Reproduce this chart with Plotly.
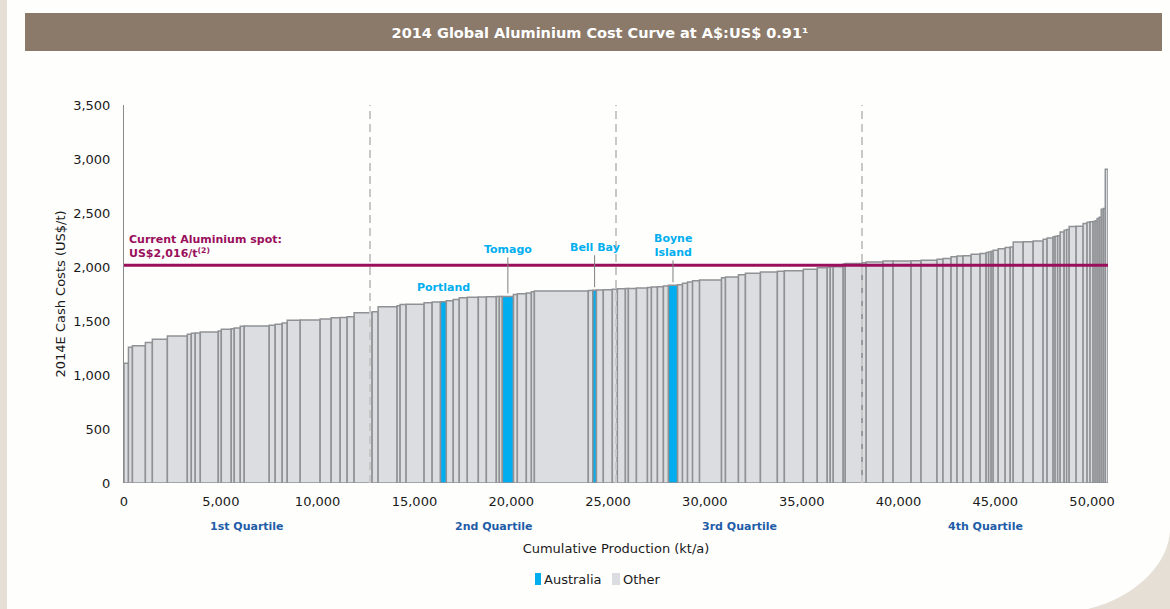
import numpy as np
import plotly.graph_objects as go

W, H = 1170, 609
ML, MR, MT, MB = 124, 62, 105, 126
PW, PH = W - ML - MR, H - MT - MB

# ---------------- data ----------------
capacity_kt = [230, 205, 670, 360, 775, 1030, 205, 205, 260, 930,
               155, 515, 155, 310, 205, 1290, 310, 360, 260, 670,
               1030, 570, 465, 360, 360, 930, 310, 980, 155, 310,
               930, 415, 430, 300, 360, 310, 415, 570, 415, 515,
               155, 155, 570, 205, 465, 260, 155, 2785, 235, 180,
               360, 465, 260, 415, 155, 415, 570, 205, 310, 310,
               260, 465, 260, 260, 260, 360, 1135, 205, 670, 360,
               775, 875, 360, 980, 720, 515, 155, 155, 515, 105,
               875, 205, 875, 515, 930, 515, 825, 310, 415, 310,
               310, 415, 465, 310, 130, 130, 105, 260, 360, 260,
               155, 515, 515, 515, 205, 310, 105, 130, 130, 205,
               130, 130, 360, 360, 205, 155, 155, 105, 105, 105,
               105, 105, 105, 140]
cash_cost = [1108, 1257, 1270, 1300, 1330, 1362, 1378, 1386, 1390, 1397,
             1408, 1424, 1428, 1436, 1452, 1454, 1460, 1471, 1482, 1508,
             1510, 1518, 1530, 1532, 1540, 1576, 1586, 1632, 1642, 1652,
             1654, 1670, 1676, 1678, 1688, 1698, 1715, 1721, 1722, 1724,
             1726, 1728, 1728, 1746, 1752, 1759, 1770, 1778, 1783, 1785,
             1787, 1790, 1795, 1798, 1800, 1802, 1806, 1811, 1814, 1818,
             1824, 1830, 1836, 1849, 1861, 1872, 1880, 1900, 1907, 1928,
             1941, 1954, 1960, 1966, 1979, 1993, 1998, 2000, 2003, 2028,
             2032, 2040, 2047, 2055, 2056, 2058, 2062, 2072, 2078, 2094,
             2102, 2105, 2118, 2124, 2134, 2140, 2146, 2155, 2170, 2180,
             2186, 2232, 2233, 2241, 2257, 2269, 2280, 2285, 2290, 2325,
             2340, 2348, 2375, 2378, 2402, 2414, 2418, 2422, 2428, 2450,
             2460, 2535, 2541, 2905]
australian_idx = [33, 42, 49, 61]
australian_names = ["Portland", "Tomago", "Bell Bay", "Boyne<br>Island"]
label_offset_px = [None, -47, -43, -40]   # leader-line length (None = no line)
spot_price = 2016
x_ticks = list(range(0, 50001, 5000))
y_ticks = list(range(0, 3501, 500))
quartile_labels = ["1st Quartile", "2nd Quartile", "3rd Quartile", "4th Quartile"]
legend_labels = ["Australia", "Other"]

# ---------------- derived ----------------
cap = np.array(capacity_kt, dtype=float)
cost = np.array(cash_cost, dtype=float)
starts = np.concatenate([[0.0], np.cumsum(cap)[:-1]])
total = float(cap.sum())
x_max = max(50800.0, total)
is_aus = np.zeros(len(cap), dtype=bool)
is_aus[australian_idx] = True

FONT = "DejaVu Sans"
GREY_FILL = "#dcdde0"
GREY_LINE = "#8f9194"
CYAN = "#00aeef"
SPOT = "#9a0f5c"
QBLUE = "#1f5ca8"
TXT = "#1a1a1a"


def px_x(p):
    return (p - ML) / PW


def px_y(p):
    return (H - MB - p) / PH


fig = go.Figure()

fig.add_trace(go.Bar(
    x=starts[~is_aus], y=cost[~is_aus], width=cap[~is_aus], offset=0,
    marker=dict(color=GREY_FILL, line=dict(color=GREY_LINE, width=1.5)),
    showlegend=False, name=legend_labels[1]))
fig.add_trace(go.Bar(
    x=starts[is_aus], y=cost[is_aus], width=cap[is_aus], offset=0,
    marker=dict(color=CYAN, line=dict(color=GREY_LINE, width=1.5)),
    showlegend=False, name=legend_labels[0]))

shapes = []
# page decoration: left strip, title bar, rounded bottom-right corner
BEIGE = "#e5dfd6"
shapes.append(dict(type="rect", xref="paper", yref="paper", layer="below",
                   x0=px_x(0), x1=px_x(7), y0=px_y(H), y1=px_y(0),
                   fillcolor=BEIGE, line=dict(width=0)))
shapes.append(dict(type="rect", xref="paper", yref="paper", layer="below",
                   x0=px_x(25), x1=px_x(1162), y0=px_y(51), y1=px_y(13),
                   fillcolor="#8b7a6a", line=dict(width=0)))
corner = (f"M {px_x(1170)},{px_y(528)} C {px_x(1170)},{px_y(568)} "
          f"{px_x(1128)},{px_y(600)} {px_x(1088)},{px_y(609)} "
          f"L {px_x(1170)},{px_y(609)} Z")
shapes.append(dict(type="path", xref="paper", yref="paper", layer="below",
                   path=corner, fillcolor=BEIGE, line=dict(width=0)))
# quartile dividers
for k in (1, 2, 3):
    shapes.append(dict(type="line", xref="x", yref="paper",
                       x0=total * k / 4, x1=total * k / 4, y0=0, y1=1.0,
                       line=dict(color="#c8c8c8", width=2, dash="8px,5px"),
                       layer="above"))
# spot price line
shapes.append(dict(type="line", xref="x", yref="y", x0=0, x1=x_max,
                   y0=spot_price, y1=spot_price,
                   line=dict(color=SPOT, width=3), layer="above"))
# legend swatches
for (x0, x1), col in zip([(535, 541), (612, 620)], [CYAN, GREY_FILL]):
    shapes.append(dict(type="rect", xref="paper", yref="paper",
                       x0=px_x(x0), x1=px_x(x1), y0=px_y(585), y1=px_y(573),
                       fillcolor=col, line=dict(width=0)))

annotations = []
annotations.append(dict(
    xref="paper", yref="y", x=0, y=spot_price, xanchor="left", yanchor="bottom",
    xshift=3, yshift=3, align="left", showarrow=False,
    text="Current Aluminium spot:<br>US$2,016/t<sup>(2)</sup>",
    font=dict(family=FONT, size=11, color=SPOT, weight="bold")))
for idx, name, off in zip(australian_idx, australian_names, label_offset_px):
    xm = starts[idx] + cap[idx] / 2
    if off is None:
        annotations.append(dict(
            x=xm, y=cost[idx], xref="x", yref="y", showarrow=False,
            yanchor="bottom", yshift=6, text=name,
            font=dict(family=FONT, size=11, color=CYAN, weight="bold")))
    else:
        annotations.append(dict(
            x=xm, y=cost[idx], xref="x", yref="y", showarrow=True,
            arrowhead=0, arrowwidth=1, arrowcolor="#7f7f7f", ax=0, ay=off,
            standoff=3, text=name,
            font=dict(family=FONT, size=11, color=CYAN, weight="bold")))
for k, lab in enumerate(quartile_labels):
    annotations.append(dict(
        x=total * (2 * k + 1) / 8, y=px_y(526), xref="x", yref="paper",
        yanchor="middle", showarrow=False, text=lab,
        font=dict(family=FONT, size=11, color=QBLUE, weight="bold")))
# legend texts
for xpos, lab in zip([542, 621], legend_labels):
    annotations.append(dict(
        x=px_x(xpos), y=px_y(579), xref="paper", yref="paper",
        xanchor="left", yanchor="middle", showarrow=False, text=lab,
        font=dict(family=FONT, size=13, color=TXT)))

fig.update_layout(
    width=W, height=H,
    margin=dict(l=ML, r=MR, t=MT, b=MB, autoexpand=False),
    paper_bgcolor="#fefefd", plot_bgcolor="#fefefd",
    barmode="overlay", bargap=0, hovermode=False, showlegend=False,
    font=dict(family=FONT, size=13, color=TXT),
    title=dict(text="2014 Global Aluminium Cost Curve at A$:US$ 0.91¹",
               x=600 / W, xref="container", xanchor="center",
               y=1 - 33 / H, yref="container", yanchor="middle",
               font=dict(family=FONT, size=14.5, color="white", weight="bold")),
    xaxis=dict(range=[0, x_max], tickvals=x_ticks, tickformat=",",
               showgrid=False, zeroline=False, showline=False,
               ticklabelstandoff=9,
               title=dict(text="Cumulative Production (kt/a)", standoff=35,
                          font=dict(family=FONT, size=13, color=TXT))),
    yaxis=dict(range=[0, 3500], tickvals=y_ticks, tickformat=",",
               showgrid=False, zeroline=False, showline=True,
               linecolor="#8a8a8a", linewidth=1, ticklabelstandoff=10,
               title=dict(text="2014E Cash Costs (US$/t)", standoff=4,
                          font=dict(family=FONT, size=13, color=TXT))),
    shapes=shapes, annotations=annotations,
)

fig.write_html("out.html",
               config={"displayModeBar": False, "staticPlot": True},
               post_script="document.body.style.margin='0px';"
                           "document.body.style.padding='0px';")
